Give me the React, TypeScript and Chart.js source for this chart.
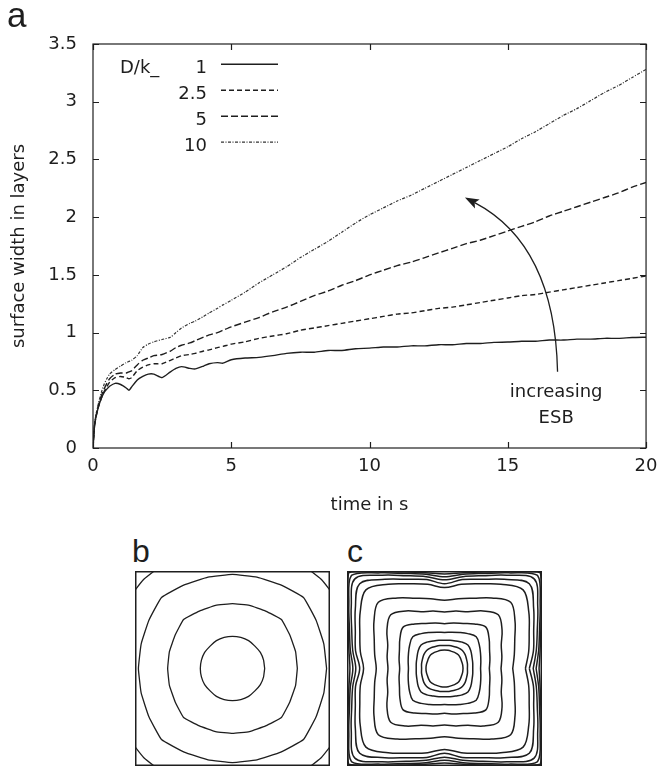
import React, { useEffect, useRef } from "react";
import { Chart, registerables } from "chart.js";

Chart.register(...registerables);

const FONT = "'DejaVu Sans', 'Liberation Sans', Arial, sans-serif";
const LABEL_FONT = "'Liberation Sans', Arial, Helvetica, sans-serif";
const INK = "#1e1e1e";

// ---------- panel a data ----------
const TIME = [
  0, 0.05, 0.1, 0.2, 0.3, 0.4, 0.5, 0.6, 0.8, 1.0, 1.2, 1.3, 1.4, 1.6, 1.8, 2.0, 2.2, 2.5, 2.8, 3.0, 3.2, 3.5, 3.7, 4.0,
  4.2, 4.5, 4.7,
  5, 5.5, 6, 6.5, 7, 7.5, 8, 8.5, 9, 9.5, 10, 10.5, 11, 11.5, 12, 12.5, 13, 13.5, 14, 14.5, 15, 15.5, 16, 16.5, 17,
  17.5, 18, 18.5, 19, 19.5, 20,
];
const W_1 = [
  0, 0.18, 0.26, 0.36, 0.43, 0.48, 0.51, 0.535, 0.56, 0.55, 0.52, 0.5, 0.53, 0.59, 0.62, 0.64, 0.64, 0.61, 0.66, 0.69,
  0.705, 0.69, 0.685, 0.71, 0.73, 0.74, 0.735,
  0.765, 0.78, 0.785, 0.8, 0.82, 0.83, 0.83, 0.845, 0.845, 0.86, 0.865, 0.875, 0.875, 0.885, 0.885, 0.895, 0.895, 0.905,
  0.905, 0.915, 0.918, 0.925, 0.925, 0.935, 0.935, 0.943, 0.943, 0.95, 0.95, 0.957, 0.96,
];
const W_2_5 = [
  0, 0.18, 0.26, 0.36, 0.43, 0.49, 0.53, 0.57, 0.61, 0.62, 0.61, 0.6, 0.61, 0.67, 0.7, 0.72, 0.73, 0.73, 0.76, 0.78,
  0.8, 0.81, 0.82, 0.84, 0.85, 0.87, 0.88,
  0.9, 0.92, 0.95, 0.97, 0.99, 1.02, 1.04, 1.06, 1.08, 1.1, 1.12, 1.14, 1.16, 1.17, 1.19, 1.21, 1.22, 1.24, 1.26, 1.28,
  1.3, 1.32, 1.33, 1.35, 1.37, 1.39, 1.41, 1.43, 1.45, 1.47, 1.49,
];
const W_5 = [
  0, 0.18, 0.27, 0.37, 0.45, 0.51, 0.56, 0.6, 0.64, 0.65, 0.65, 0.66, 0.67, 0.72, 0.76, 0.78, 0.8, 0.81, 0.84, 0.87,
  0.89, 0.91, 0.93, 0.96, 0.98, 1.0, 1.02,
  1.05, 1.09, 1.13, 1.18, 1.22, 1.27, 1.32, 1.36, 1.41, 1.45, 1.5, 1.54, 1.58, 1.61, 1.65, 1.69, 1.73, 1.77, 1.8, 1.84,
  1.88, 1.92, 1.96, 2.01, 2.05, 2.09, 2.13, 2.17, 2.21, 2.26, 2.3,
];
const W_10 = [
  0, 0.19, 0.28, 0.39, 0.48, 0.55, 0.6, 0.64, 0.68, 0.71, 0.74, 0.75, 0.76, 0.8, 0.87, 0.9, 0.92, 0.94, 0.96, 1.0,
  1.04, 1.08, 1.1, 1.14, 1.17, 1.21, 1.24,
  1.28, 1.35, 1.43, 1.5, 1.57, 1.65, 1.72, 1.79, 1.87, 1.95, 2.02, 2.08, 2.14, 2.19, 2.25, 2.31, 2.37, 2.43, 2.49, 2.55,
  2.61, 2.68, 2.74, 2.81, 2.88, 2.94, 3.01, 3.08, 3.14, 3.21, 3.28,
];
const SERIES_LABELS = ["1", "2.5", "5", "10"];
const LEGEND_TITLE = "D/k_";
const X_TITLE = "time in s";
const Y_TITLE = "surface width in layers";
const ANNOTATION_TEXT = ["increasing", "ESB"];
const PANEL_LABELS = ["a", "b", "c"];

// annotation anchor points, in data units (t, width)
const ARROW_FROM = [16.8, 0.66];
const ARROW_CTRL = [16.7, 1.76];
const ARROW_TO = [13.45, 2.17];
const TEXT_AT = [16.75, 0.442, 0.215];

// ---------- panels b, c: contour radii over one octant (0°..45°) ----------
const B_STEP = 15;
const B_CONTOURS = [
  [0.33, 0.33, 0.33, 0.325],
  [0.665, 0.67, 0.68, 0.71],
  [0.965, 0.97, 0.99, 1.03],
  [1.29, 1.29, 1.29, 1.29],
];
const C_STEP = 11.25;
const C_CONTOURS = [
  [0.19, 0.19, 0.19, 0.195, 0.2],
  [0.235, 0.24, 0.245, 0.255, 0.26],
  [0.29, 0.295, 0.305, 0.325, 0.34],
  [0.37, 0.38, 0.4, 0.43, 0.46],
  [0.46, 0.475, 0.5, 0.55, 0.6],
  [0.58, 0.6, 0.63, 0.71, 0.78],
  [0.7, 0.73, 0.78, 0.87, 0.96],
  [0.83, 0.88, 0.94, 1.04, 1.14],
  [0.87, 0.93, 0.99, 1.1, 1.23],
  [0.91, 0.96, 1.03, 1.15, 1.3],
  [0.94, 0.985, 1.055, 1.18, 1.35],
  [0.97, 1.0, 1.07, 1.195, 1.39],
];

const SERIES = [W_1, W_2_5, W_5, W_10];
const SERIES_STYLE = [
  { dash: [] as number[], width: 1.4, color: INK },
  { dash: [5, 3], width: 1.4, color: INK },
  { dash: [7, 3], width: 1.4, color: INK },
  { dash: [3, 1.5, 1, 1.5], width: 1.2, color: "#333" },
];

Chart.defaults.font.family = FONT;
Chart.defaults.color = INK;

function ringPoints(radii: number[], stepDeg: number) {
  const pts: { x: number; y: number }[] = [];
  const n = Math.round(360 / stepDeg);
  for (let j = 0; j <= n; j++) {
    const phi = (j % n) * stepDeg;
    const a = phi % 90;
    const idx = Math.round((a <= 45 ? a : 90 - a) / stepDeg);
    const r = radii[idx];
    const rad = (phi * Math.PI) / 180;
    pts.push({ x: r * Math.cos(rad), y: r * Math.sin(rad) });
  }
  return pts;
}

const framePlugin = {
  id: "frameTicks",
  afterDraw(chart: any) {
    const { ctx, chartArea: a, scales } = chart;
    const x = scales.x;
    const y = scales.y;
    ctx.save();
    ctx.strokeStyle = INK;
    ctx.lineWidth = 1.2;
    ctx.strokeRect(a.left, a.top, a.right - a.left, a.bottom - a.top);
    ctx.beginPath();
    x.ticks.forEach((t: any) => {
      const px = Math.round(x.getPixelForValue(t.value)) + 0.5;
      ctx.moveTo(px, a.bottom);
      ctx.lineTo(px, a.bottom - 6);
      ctx.moveTo(px, a.top);
      ctx.lineTo(px, a.top + 6);
    });
    y.ticks.forEach((t: any) => {
      const py = Math.round(y.getPixelForValue(t.value)) + 0.5;
      ctx.moveTo(a.left, py);
      ctx.lineTo(a.left + 6, py);
      ctx.moveTo(a.right, py);
      ctx.lineTo(a.right - 6, py);
    });
    ctx.stroke();
    ctx.restore();
  },
};

const legendPlugin = {
  id: "keyBox",
  afterDraw(chart: any) {
    const { ctx, chartArea: a } = chart;
    ctx.save();
    ctx.font = `18px ${FONT}`;
    ctx.fillStyle = INK;
    ctx.textBaseline = "alphabetic";
    ctx.textAlign = "left";
    ctx.fillText(LEGEND_TITLE, a.left + 27, a.top + 28.7);
    SERIES_LABELS.forEach((lab, i) => {
      const base = a.top + 28.7 + i * 26;
      ctx.textAlign = "right";
      ctx.fillStyle = INK;
      ctx.fillText(lab, a.left + 114, base);
      const st = SERIES_STYLE[i];
      ctx.beginPath();
      ctx.setLineDash(st.dash);
      ctx.strokeStyle = st.color;
      ctx.lineWidth = st.width;
      ctx.moveTo(a.left + 128, base - 8.5);
      ctx.lineTo(a.left + 185, base - 8.5);
      ctx.stroke();
      ctx.setLineDash([]);
    });
    ctx.restore();
  },
};

const arrowPlugin = {
  id: "esbArrow",
  afterDraw(chart: any) {
    const { ctx, scales } = chart;
    const x = scales.x;
    const y = scales.y;
    const p0 = [x.getPixelForValue(ARROW_FROM[0]), y.getPixelForValue(ARROW_FROM[1])];
    const pc = [x.getPixelForValue(ARROW_CTRL[0]), y.getPixelForValue(ARROW_CTRL[1])];
    const p2 = [x.getPixelForValue(ARROW_TO[0]), y.getPixelForValue(ARROW_TO[1])];
    const dx = p2[0] - pc[0];
    const dy = p2[1] - pc[1];
    const len = Math.hypot(dx, dy);
    const ux = dx / len;
    const uy = dy / len;
    const headL = 14;
    const headW = 5;
    const base = [p2[0] - ux * headL, p2[1] - uy * headL];
    ctx.save();
    ctx.strokeStyle = INK;
    ctx.fillStyle = INK;
    ctx.lineWidth = 1.3;
    ctx.beginPath();
    ctx.moveTo(p0[0], p0[1]);
    ctx.quadraticCurveTo(pc[0], pc[1], base[0] + ux * 3, base[1] + uy * 3);
    ctx.stroke();
    ctx.beginPath();
    ctx.moveTo(p2[0], p2[1]);
    ctx.lineTo(base[0] - uy * headW, base[1] + ux * headW);
    ctx.lineTo(base[0] + ux * 3, base[1] + uy * 3);
    ctx.lineTo(base[0] + uy * headW, base[1] - ux * headW);
    ctx.closePath();
    ctx.fill();
    ctx.font = `18px ${FONT}`;
    ctx.textAlign = "center";
    ctx.textBaseline = "alphabetic";
    const tx = x.getPixelForValue(TEXT_AT[0]);
    ctx.fillText(ANNOTATION_TEXT[0], tx, y.getPixelForValue(TEXT_AT[1]));
    ctx.fillText(ANNOTATION_TEXT[1], tx, y.getPixelForValue(TEXT_AT[2]));
    ctx.restore();
  },
};

const boxPlugin = {
  id: "panelBox",
  afterDraw(chart: any) {
    const { ctx, width, height } = chart;
    ctx.save();
    ctx.strokeStyle = INK;
    ctx.lineWidth = 1.5;
    ctx.strokeRect(0.75, 0.75, width - 1.5, height - 1.5);
    ctx.restore();
  },
};

function makePanel(canvas: HTMLCanvasElement, rings: number[][], step: number, tension: number, lw: number) {
  return new Chart(canvas, {
    type: "scatter",
    data: {
      datasets: rings.map((r) => ({
        data: ringPoints(r, step),
        showLine: true,
        pointRadius: 0,
        borderColor: INK,
        borderWidth: lw,
        tension,
        fill: false,
      })),
    },
    options: {
      animation: false,
      responsive: false,
      events: [],
      layout: { padding: 0 },
      plugins: { legend: { display: false }, tooltip: { enabled: false } },
      scales: {
        x: { type: "linear", min: -1, max: 1, display: false },
        y: { type: "linear", min: -1, max: 1, display: false },
      },
    } as any,
    plugins: [boxPlugin],
  });
}

export default function App() {
  const mainRef = useRef<HTMLCanvasElement>(null);
  const bRef = useRef<HTMLCanvasElement>(null);
  const cRef = useRef<HTMLCanvasElement>(null);

  useEffect(() => {
    const tickFont = { size: 18, family: FONT };
    const main = new Chart(mainRef.current as HTMLCanvasElement, {
      type: "line",
      data: {
        datasets: SERIES.map((vals, i) => ({
          label: SERIES_LABELS[i],
          data: TIME.map((t, k) => ({ x: t, y: vals[k] })),
          borderColor: SERIES_STYLE[i].color,
          borderWidth: SERIES_STYLE[i].width,
          borderDash: SERIES_STYLE[i].dash,
          pointRadius: 0,
          tension: 0.2,
          fill: false,
        })),
      },
      options: {
        animation: false,
        responsive: false,
        events: [],
        layout: { padding: { top: 44, right: 12, left: 0, bottom: 0 } },
        plugins: { legend: { display: false }, tooltip: { enabled: false } },
        scales: {
          x: {
            type: "linear",
            min: 0,
            max: 20,
            afterFit: (s: any) => {
              s.height = 82;
            },
            ticks: {
              stepSize: 5,
              padding: 7.5,
              color: INK,
              font: tickFont,
              maxRotation: 0,
              autoSkip: false,
              callback: (v: any) => String(Math.round(Number(v) * 10) / 10),
            },
            grid: { display: false, drawTicks: false },
            border: { display: false },
            title: {
              display: true,
              text: X_TITLE,
              color: INK,
              font: tickFont,
              padding: { top: 0, bottom: 14 },
            },
          },
          y: {
            type: "linear",
            min: 0,
            max: 3.5,
            afterFit: (s: any) => {
              s.width = 93;
            },
            ticks: {
              stepSize: 0.5,
              padding: 16,
              color: INK,
              font: tickFont,
              callback: (v: any) => String(Math.round(Number(v) * 10) / 10),
            },
            grid: { display: false, drawTicks: false },
            border: { display: false },
            title: {
              display: true,
              text: Y_TITLE,
              color: INK,
              font: tickFont,
              padding: { top: 9, bottom: 0 },
            },
          },
        },
      } as any,
      plugins: [framePlugin, legendPlugin, arrowPlugin],
    });
    const b = makePanel(bRef.current as HTMLCanvasElement, B_CONTOURS, B_STEP, 0.1, 1.3);
    const c = makePanel(cRef.current as HTMLCanvasElement, C_CONTOURS, C_STEP, 0.35, 1.5);
    return () => {
      main.destroy();
      b.destroy();
      c.destroy();
    };
  }, []);

  const labelStyle = (left: number, top: number, size: number): React.CSSProperties => ({
    position: "absolute",
    left,
    top,
    fontFamily: LABEL_FONT,
    fontSize: size,
    lineHeight: `${size}px`,
    color: INK,
    margin: 0,
  });

  return (
    <div style={{ position: "absolute", left: 0, top: 0, width: 665, height: 766, background: "#fff", overflow: "hidden" }}>
      <canvas ref={mainRef} width={665} height={530} style={{ position: "absolute", left: 0, top: 0, display: "block" }} />
      <canvas ref={bRef} width={195} height={195} style={{ position: "absolute", left: 135, top: 571, display: "block" }} />
      <canvas ref={cRef} width={195} height={195} style={{ position: "absolute", left: 347, top: 571, display: "block" }} />
      <div style={labelStyle(7, -2.6, 35)}>{PANEL_LABELS[0]}</div>
      <div style={labelStyle(132, 534.6, 32)}>{PANEL_LABELS[1]}</div>
      <div style={labelStyle(347, 534.6, 32)}>{PANEL_LABELS[2]}</div>
    </div>
  );
}
